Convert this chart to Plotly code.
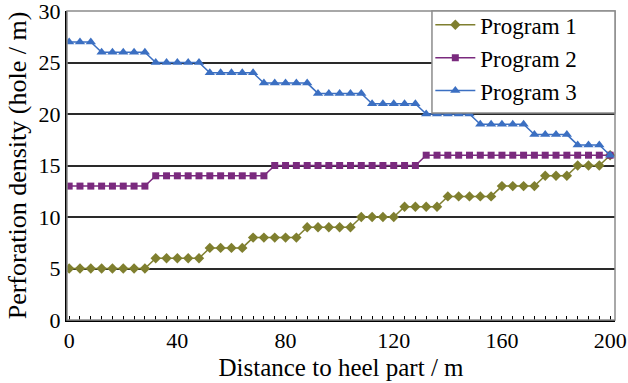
import plotly.graph_objects as go

distance = [0, 4, 8, 12, 16, 20, 24, 28, 32, 36, 40, 44, 48, 52, 56, 60, 64, 68, 72, 76,
            80, 84, 88, 92, 96, 100, 104, 108, 112, 116, 120, 124, 128, 132, 136, 140,
            144, 148, 152, 156, 160, 164, 168, 172, 176, 180, 184, 188, 192, 196, 200]

program1 = [5, 5, 5, 5, 5, 5, 5, 5, 6, 6, 6, 6, 6, 7, 7, 7, 7, 8, 8, 8,
            8, 8, 9, 9, 9, 9, 9, 10, 10, 10, 10, 11, 11, 11, 11, 12,
            12, 12, 12, 12, 13, 13, 13, 13, 14, 14, 14, 15, 15, 15, 16]

program2 = [13, 13, 13, 13, 13, 13, 13, 13, 14, 14, 14, 14, 14, 14, 14, 14, 14, 14, 14, 15,
            15, 15, 15, 15, 15, 15, 15, 15, 15, 15, 15, 15, 15, 16, 16, 16,
            16, 16, 16, 16, 16, 16, 16, 16, 16, 16, 16, 16, 16, 16, 16]

program3 = [27, 27, 27, 26, 26, 26, 26, 26, 25, 25, 25, 25, 25, 24, 24, 24, 24, 24, 23, 23,
            23, 23, 23, 22, 22, 22, 22, 22, 21, 21, 21, 21, 21, 20, 20, 20,
            20, 20, 19, 19, 19, 19, 19, 18, 18, 18, 18, 17, 17, 17, 16]

series_names = ["Program 1", "Program 2", "Program 3"]
x_ticks = [0, 40, 80, 120, 160, 200]
y_ticks = [0, 5, 10, 15, 20, 25, 30]

FONT = "Liberation Serif, Times New Roman, serif"

fig = go.Figure()
fig.add_trace(go.Scatter(
    x=distance, y=program1, name=series_names[0], mode="lines+markers",
    line=dict(color="#7f7f2f", width=1.5),
    marker=dict(symbol="diamond", size=8, color="#7f7f2f")))
fig.add_trace(go.Scatter(
    x=distance, y=program2, name=series_names[1], mode="lines+markers",
    line=dict(color="#7a2a7e", width=1.5),
    marker=dict(symbol="square", size=7, color="#7a2a7e")))
fig.add_trace(go.Scatter(
    x=distance, y=program3, name=series_names[2], mode="lines+markers",
    line=dict(color="#3b6fc2", width=1.5),
    marker=dict(symbol="triangle-up", size=9, color="#3b6fc2")))

fig.update_layout(
    width=628, height=383,
    margin=dict(l=67, r=13, t=11, b=63, autoexpand=False),
    paper_bgcolor="white", plot_bgcolor="white",
    font=dict(family=FONT, size=22, color="black"),
    showlegend=True,
    legend=dict(
        x=0.663, y=1.025, xanchor="left", yanchor="top",
        bgcolor="rgba(0,0,0,0)", borderwidth=0,
        font=dict(family=FONT, size=23, color="black"),
        itemwidth=40, tracegroupgap=0,
    ),
    xaxis=dict(
        range=[-0.8, 201.8], tickvals=x_ticks, ticktext=[str(v) for v in x_ticks],
        showgrid=False, zeroline=False,
        showline=True, linecolor="black", linewidth=2,
        ticks="", tickfont=dict(family=FONT, size=22),
        minor=dict(tick0=0, dtick=4, ticks="inside", ticklen=4, tickcolor="black", tickwidth=1),
        title=dict(text="Distance to heel part / m", font=dict(family=FONT, size=25), standoff=6),
        automargin=False,
    ),
    yaxis=dict(
        range=[0, 30], tickvals=y_ticks,
        showgrid=True, gridcolor="#2a2a2a", gridwidth=1.5, zeroline=False,
        showline=True, linecolor="black", linewidth=2,
        ticks="", tickfont=dict(family=FONT, size=22),
        ticklabeloverflow="allow",
        title=dict(text="Perforation density (hole / m)", font=dict(family=FONT, size=26), standoff=4),
        automargin=False,
    ),
    shapes=[
        dict(type="rect", xref="paper", yref="paper", x0=0, x1=1, y0=0, y1=1,
             line=dict(color="#8c8c8c", width=1.5), layer="above"),
        dict(type="rect", xref="paper", yref="paper", x0=0.666, x1=1, y0=0.67, y1=1,
             fillcolor="white", line=dict(color="#8c8c8c", width=1.5), layer="above"),
    ],
)

fig.write_html("out.html")
